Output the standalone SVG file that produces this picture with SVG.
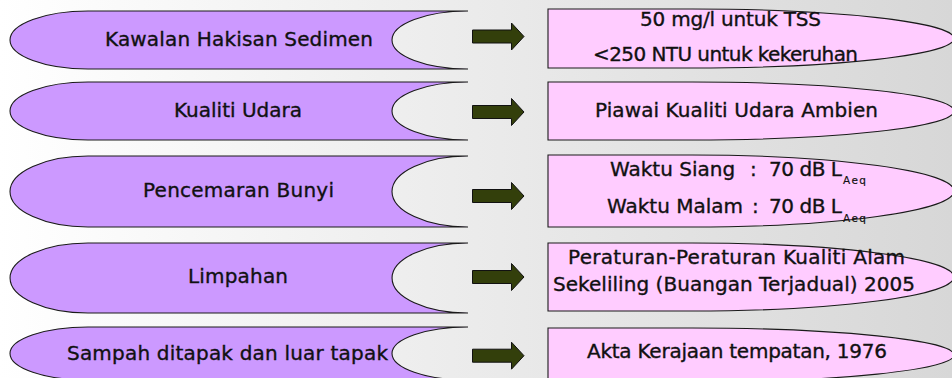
<svg xmlns="http://www.w3.org/2000/svg" width="952" height="378" viewBox="0 0 952 378">
<style>
.bg{fill:url(#bgGrad)}
.lshape{fill:#cc99ff;stroke:#1a1a1a;stroke-width:1.1}
.rshape{fill:#ffccff;stroke:#1a1a1a;stroke-width:1.1}
.arrow{fill:#333f0b;stroke:#111;stroke-width:1}
text{font-family:"DejaVu Sans","Liberation Sans",sans-serif;font-size:20px;fill:#111;stroke:#111;stroke-width:0.35}
.sub{font-size:10.5px;stroke-width:0.15}
</style>
<defs>
<linearGradient id="bgGrad" x1="0" y1="0" x2="1" y2="0">
<stop offset="0" stop-color="#ffffff"/>
<stop offset="0.1" stop-color="#fbfbfb"/>
<stop offset="1" stop-color="#d7d7d7"/>
</linearGradient>
</defs>
<rect class="bg" x="0" y="0" width="952" height="378"/>

<g id="left1">
<path class="lshape" d="M88,11 H468 A76 29 0 0 0 468,69 H88 A78 29 0 0 1 88,11 Z"/>
<text x="105" y="46" textLength="268">Kawalan Hakisan Sedimen</text>
</g>
<g id="left2">
<path class="lshape" d="M88,82 H468 A76 29 0 0 0 468,140 H88 A78 29 0 0 1 88,82 Z"/>
<text x="174" y="117" textLength="128">Kualiti Udara</text>
</g>
<g id="left3">
<path class="lshape" d="M88,156 H468 A76 35.5 0 0 0 468,227 H88 A78 35.5 0 0 1 88,156 Z"/>
<text x="143" y="197" textLength="191">Pencemaran Bunyi</text>
</g>
<g id="left4">
<path class="lshape" d="M88,243 H468 A76 35 0 0 0 468,313 H88 A78 35 0 0 1 88,243 Z"/>
<text x="188" y="283" textLength="100">Limpahan</text>
</g>
<g id="left5">
<path class="lshape" d="M88,327 H468 A76 26.5 0 0 0 468,380 H88 A78 26.5 0 0 1 88,327 Z"/>
<text x="67" y="360" textLength="321">Sampah ditapak dan luar tapak</text>
</g>

<g id="connectors">
<path class="arrow" d="M472.5,30 H511.5 V23 L524,36.5 L511.5,50 V43 H472.5 Z"/>
<path class="arrow" d="M472.5,105.5 H511.5 V98.5 L524,112 L511.5,125.5 V118.5 H472.5 Z"/>
<path class="arrow" d="M472.5,189.5 H511.5 V182.5 L524,196 L511.5,209.5 V202.5 H472.5 Z"/>
<path class="arrow" d="M472.5,270.5 H511.5 V263.5 L524,277 L511.5,290.5 V283.5 H472.5 Z"/>
<path class="arrow" d="M472.5,349.2 H511.5 V342.2 L524,355.7 L511.5,369.2 V362.2 H472.5 Z"/>
</g>

<g id="right1">
<path class="rshape" d="M548,9 H692 A262 29.5 0 0 1 692,68 H548 Z"/>
<text x="640" y="25.5" textLength="181">50 mg/l untuk TSS</text>
<text x="593" y="60.5" textLength="265">&lt;250 NTU untuk kekeruhan</text>
</g>
<g id="right2">
<path class="rshape" d="M548,82 H692 A262 29 0 0 1 692,140 H548 Z"/>
<text x="595" y="117.3" textLength="283">Piawai Kualiti Udara Ambien</text>
</g>
<g id="right3">
<path class="rshape" d="M548,155 H692 A262 36 0 0 1 692,227 H548 Z"/>
<text x="610" y="176">Waktu Siang</text>
<text x="750" y="176">:</text>
<text x="769" y="176" textLength="73">70 dB L</text>
<text class="sub" x="843" y="184" textLength="23">Aeq</text>
<text x="607" y="213.3">Waktu Malam</text>
<text x="752" y="213.3">:</text>
<text x="769" y="213.3" textLength="73">70 dB L</text>
<text class="sub" x="843" y="221.5" textLength="23">Aeq</text>
</g>
<g id="right4">
<path class="rshape" d="M548,243 H692 A262 34 0 0 1 692,311 H548 Z"/>
<text x="568" y="264" textLength="337">Peraturan-Peraturan Kualiti Alam</text>
<text x="553" y="291" textLength="362">Sekeliling (Buangan Terjadual) 2005</text>
</g>
<g id="right5">
<path class="rshape" d="M548,328 H692 A262 27 0 0 1 692,382 H548 Z"/>
<text x="587" y="358" textLength="300">Akta Kerajaan tempatan, 1976</text>
</g>
</svg>
